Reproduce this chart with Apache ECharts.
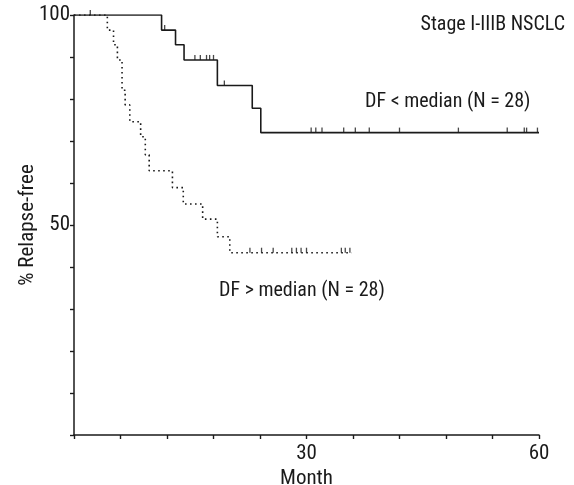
<!DOCTYPE html>
<html>
<head>
<meta charset="utf-8">
<script src="https://cdn.jsdelivr.net/npm/echarts@6/dist/echarts.min.js"></script>
<style>
html,body{margin:0;padding:0;background:#fff;}
#chart{width:574px;height:485px;}
</style>
</head>
<body>
<div id="chart"></div>
<script>
// Data
const lowMonths = [0, 11.3, 13.1, 14.2, 18.5, 23.0, 24.1, 60];
const lowValues = [100, 96.4, 92.9, 89.3, 83.2, 77.8, 72.0, 72.0];
const lowCensorMonths = [2.1, 11.7, 15.6, 16.3, 17.1, 17.5, 18.0, 19.4, 30.6, 31.2, 32.0, 34.8, 36.3, 38.1, 42.0, 49.6, 55.9, 58.1, 58.4, 59.8];
const lowCensorValues = [100, 96.4, 89.3, 89.3, 89.3, 89.3, 89.3, 83.2, 72, 72, 72, 72, 72, 72, 72, 72, 72, 72, 72, 72];

const highMonths = [0, 4.3, 5.1, 5.6, 6.2, 6.6, 7.2, 8.6, 9.2, 9.7, 12.7, 14.1, 16.6, 18.5, 20.1, 35.8];
const highValues = [100, 96.4, 92.9, 89.3, 82.1, 78.6, 74.6, 71.0, 66.7, 62.9, 58.9, 55.0, 51.4, 47.2, 43.4, 43.4];
const highCensorMonths = [22.7, 24.2, 25.7, 28.1, 28.7, 29.3, 30.0, 34.5, 35.0, 35.6];
const highCensorValues = [43.4, 43.4, 43.4, 43.4, 43.4, 43.4, 43.4, 43.4, 43.4, 43.4];

const xLabels = [30, 60];
const yLabels = [50, 100];

const FONT = "'Roboto Condensed', 'DejaVu Sans Condensed', sans-serif";
const INK = '#1a1a1a';

const zip = (a, b) => a.map((v, i) => [v, b[i]]);

const chart = echarts.init(document.getElementById('chart'), null, {renderer: 'canvas'});

const baseX = {
  type: 'value', min: 0, max: 60, interval: 6,
  splitLine: {show: false}
};
const baseY = {
  type: 'value', min: 0, max: 100, interval: 10,
  splitLine: {show: false}
};

chart.setOption({
  animation: false,
  backgroundColor: '#fff',
  grid: {left: 74, right: 35, top: 15, bottom: 50, containLabel: false, outerBoundsMode: 'none'},
  xAxis: [
    Object.assign({}, baseX, {
      name: 'Month', nameLocation: 'middle', nameGap: 33, nameMoveOverlap: false,
      nameTextStyle: {fontFamily: FONT, fontSize: 21, color: INK},
      axisLine: {show: true, lineStyle: {color: INK, width: 1.5}},
      axisTick: {show: true, inside: false, length: 4, lineStyle: {color: INK, width: 1.2}},
      axisLabel: {
        margin: 8, fontFamily: FONT, fontSize: 21, color: INK,
        formatter: v => xLabels.includes(v) ? String(v) : ''
      }
    }),
    Object.assign({}, baseX, {
      axisLine: {show: false},
      axisTick: {show: true, inside: true, length: 4, lineStyle: {color: INK, width: 1.2}},
      axisLabel: {show: false}
    })
  ],
  yAxis: [
    Object.assign({}, baseY, {
      name: '% Relapse-free', nameLocation: 'middle', nameGap: 36, nameMoveOverlap: false,
      nameTextStyle: {fontFamily: FONT, fontSize: 21, color: INK},
      axisLine: {show: true, lineStyle: {color: INK, width: 1.5}},
      axisTick: {show: true, inside: false, length: 4, lineStyle: {color: INK, width: 1.2}},
      axisLabel: {
        margin: 4, fontFamily: FONT, fontSize: 21, color: INK, padding: [8, 0, 0, 0],
        formatter: v => yLabels.includes(v) ? String(v) : ''
      }
    }),
    Object.assign({}, baseY, {
      axisLine: {show: false},
      axisTick: {show: true, inside: true, length: 4, lineStyle: {color: INK, width: 1.2}},
      axisLabel: {show: false}
    })
  ],
  series: [
    {
      type: 'line', step: 'end', xAxisIndex: 0, yAxisIndex: 0,
      data: zip(highMonths, highValues), symbol: 'none',
      lineStyle: {color: INK, width: 1.6, type: [1.6, 3.4]}
    },
    {
      type: 'line', step: 'end', xAxisIndex: 0, yAxisIndex: 0,
      data: zip(lowMonths, lowValues), symbol: 'none',
      lineStyle: {color: INK, width: 1.6, type: 'solid'}
    },
    {
      type: 'scatter', xAxisIndex: 0, yAxisIndex: 0,
      data: zip(lowCensorMonths, lowCensorValues),
      symbol: 'rect', symbolSize: [1.3, 5], symbolOffset: [0, -2.5],
      itemStyle: {color: INK}
    },
    {
      type: 'scatter', xAxisIndex: 0, yAxisIndex: 0,
      data: zip(highCensorMonths, highCensorValues),
      symbol: 'rect', symbolSize: [1.3, 5], symbolOffset: [0, -2.5],
      itemStyle: {color: INK}
    }
  ],
  graphic: [
    {type: 'text', right: 9, top: 15,
      style: {text: 'Stage I-IIIB NSCLC', font: '20px ' + FONT, fill: INK}},
    {type: 'text', left: 365, top: 92,
      style: {text: 'DF < median (N = 28)', font: '20px ' + FONT, fill: INK}},
    {type: 'text', left: 219, top: 281,
      style: {text: 'DF > median (N = 28)', font: '20px ' + FONT, fill: INK}}
  ]
});
</script>
</body>
</html>
